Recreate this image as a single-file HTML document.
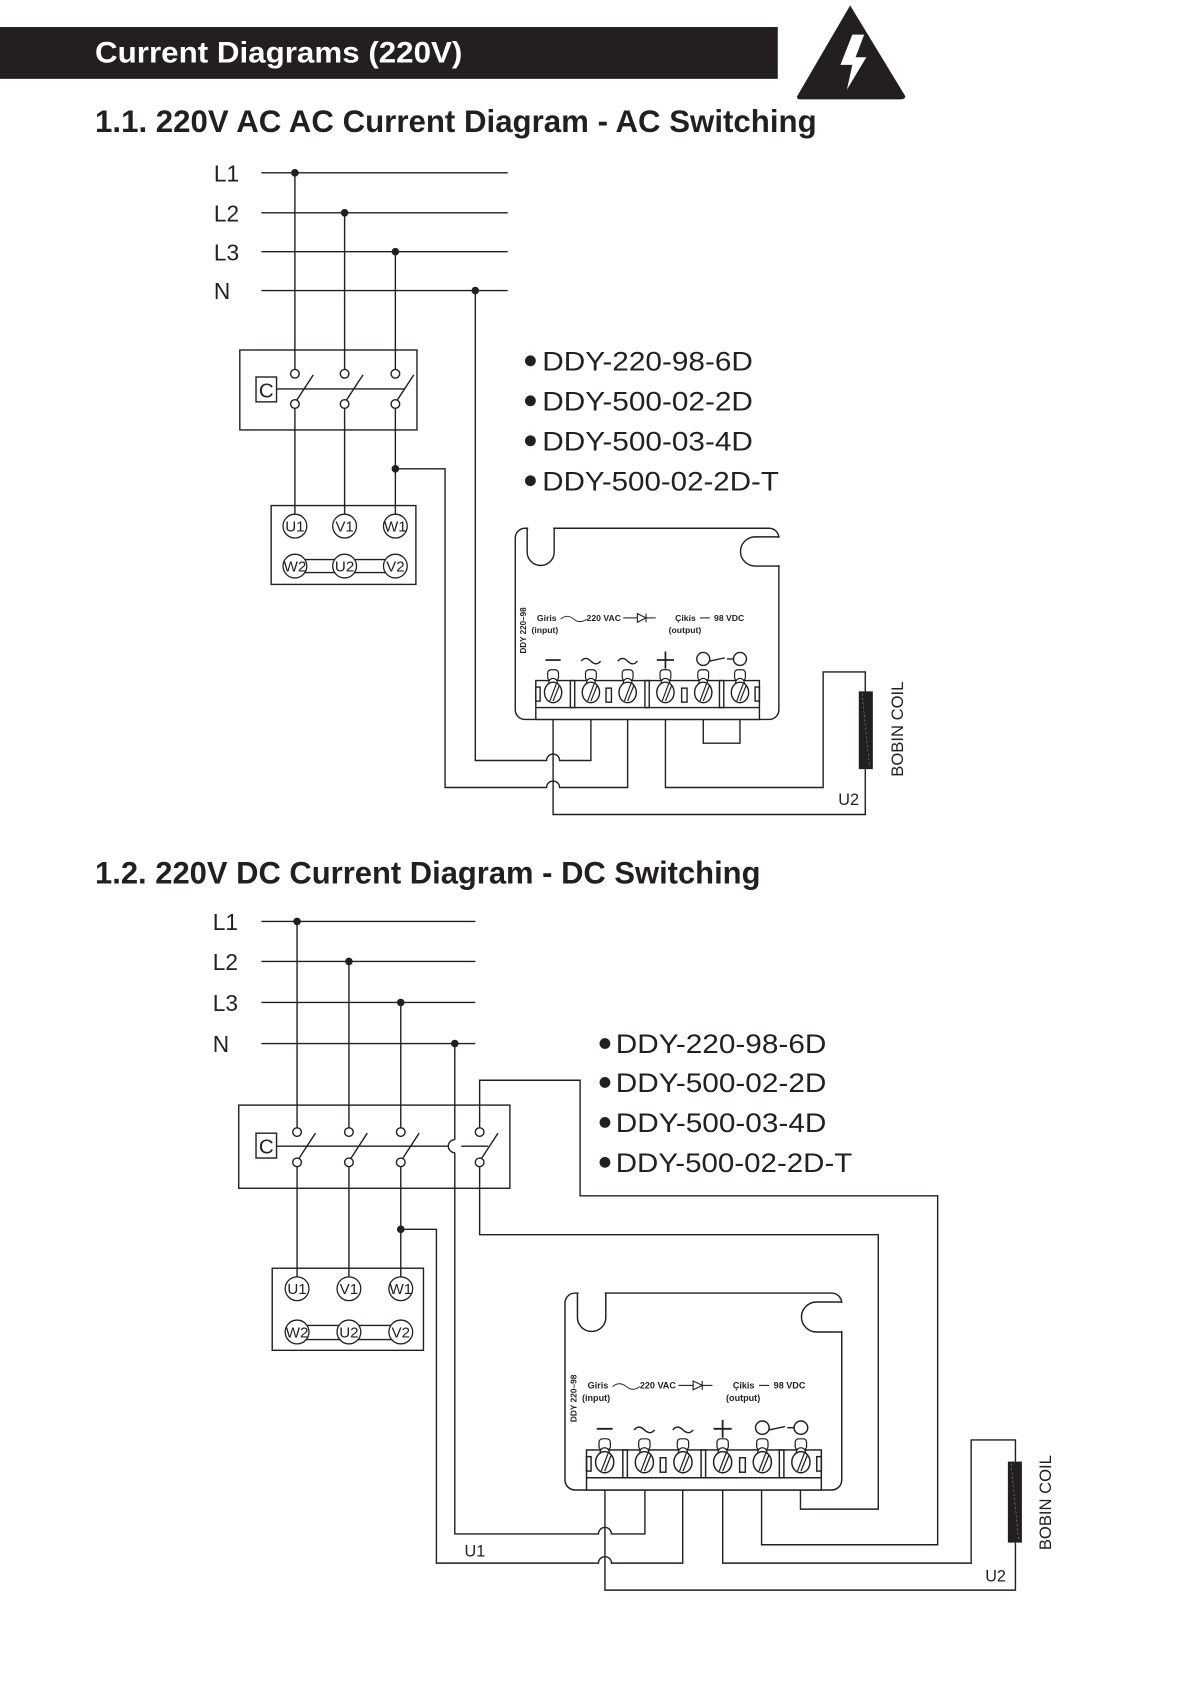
<!DOCTYPE html>
<html><head><meta charset="utf-8"><style>
html,body{margin:0;padding:0;background:#fff;}
svg{display:block;}
text{font-family:"Liberation Sans",sans-serif;fill:#231f20;}
</style></head><body>
<svg width="1198" height="1696" viewBox="0 0 1109 1570" xmlns="http://www.w3.org/2000/svg">
<defs>
<g id="term">
  <rect x="-5" y="131" width="10" height="10" rx="3" fill="#fff" stroke="#231f20" stroke-width="1.1"/>
  <circle cx="0" cy="143" r="4" fill="#fff" stroke="#231f20" stroke-width="1.1"/>
  <ellipse cx="0" cy="152" rx="8" ry="9.5" fill="#fff" stroke="#231f20" stroke-width="1.3"/>
  <line x1="-3" y1="160" x2="3" y2="144" stroke="#231f20" stroke-width="1.1"/>
  <line x1="0" y1="160" x2="6" y2="145" stroke="#231f20" stroke-width="1.1"/>
</g>
<g id="devbody" fill="none" stroke="#231f20" stroke-width="1.3">
  <rect x="0" y="0" width="244" height="177" rx="9"/>
  <rect x="12" y="-2" width="23" height="5" fill="#fff" stroke="none"/>
  <path d="M11,0 V22 A12.5,12.5 0 0 0 36,22 V0"/>
  <rect x="241" y="9" width="6" height="25" fill="#fff" stroke="none"/>
  <path d="M244,8 H222 A13.5,13.5 0 0 0 222,35 H244"/>
  <rect x="19" y="141" width="207" height="36" fill="#fff"/>
  <line x1="19" y1="166" x2="226" y2="166"/>
  <rect x="19" y="147" width="4" height="13"/>
  <rect x="222" y="147" width="4" height="13"/>
  <rect x="51" y="141" width="4" height="25"/>
  <rect x="120" y="141" width="4" height="25"/>
  <rect x="189" y="141" width="4" height="25"/>
  <rect x="84" y="148" width="5" height="13"/>
  <rect x="154" y="148" width="5" height="13"/>
  <use href="#term" x="35"/><use href="#term" x="70"/><use href="#term" x="104"/>
  <use href="#term" x="139"/><use href="#term" x="174"/><use href="#term" x="208"/>
  <line x1="28" y1="122" x2="42" y2="122" stroke-width="1.6"/>
  <path d="M61,123 q4,-5 9,0 t9,0" />
  <path d="M95,123 q4,-5 9,0 t9,0" />
  <line x1="131" y1="122" x2="147" y2="122" stroke-width="1.6"/>
  <line x1="139" y1="114" x2="139" y2="130" stroke-width="1.6"/>
  <circle cx="174" cy="121" r="6"/><circle cx="208" cy="121" r="6"/>
  <line x1="180" y1="123" x2="194" y2="120"/><line x1="196" y1="121" x2="202" y2="121"/>
  <path d="M42,84 q6,-5 12,0 q6,5 12,0" stroke-width="0.8"/>
  <line x1="100" y1="83" x2="113" y2="83" stroke-width="1"/>
  <path d="M113,79 L121,83 L113,87 Z" stroke-width="1"/>
  <line x1="121" y1="79" x2="121" y2="87" stroke-width="1"/>
  <line x1="121" y1="83" x2="130" y2="83" stroke-width="1"/>
  <line x1="171" y1="83" x2="180" y2="83" stroke-width="1"/>
</g>
</defs>

<!-- header -->
<rect x="0" y="25" width="720" height="48" fill="#231f20"/>
<text x="88" y="58" font-size="27" font-weight="bold" fill="#fff" style="fill:#fff" textLength="340" lengthAdjust="spacingAndGlyphs">Current Diagrams (220V)</text>
<path d="M787,5 L838,89 Q838,92 834,92 L741,92 Q737,92 738,89 Z" fill="#231f20"/>
<path d="M789,32 L800,32 L792,53 L802,53 L784,83 L789,60 L778,60 Z" fill="#fff"/>

<text x="88" y="122" font-size="29" font-weight="bold" textLength="668" lengthAdjust="spacingAndGlyphs">1.1. 220V AC  AC Current Diagram - AC Switching</text>
<text x="88" y="818" font-size="29" font-weight="bold" textLength="616" lengthAdjust="spacingAndGlyphs">1.2. 220V DC Current Diagram - DC Switching</text>

<!-- ================= SECTION 1 ================= -->
<g font-size="21" font-weight="normal">
<text x="198" y="168">L1</text><text x="198" y="205">L2</text><text x="198" y="241">L3</text><text x="198" y="277">N</text>
</g>
<g stroke="#231f20" stroke-width="1.3" fill="none">
  <line x1="242" y1="160" x2="470" y2="160"/>
  <line x1="242" y1="197" x2="470" y2="197"/>
  <line x1="242" y1="233" x2="470" y2="233"/>
  <line x1="242" y1="269" x2="470" y2="269"/>
  <line x1="273" y1="160" x2="273" y2="342"/>
  <line x1="319" y1="197" x2="319" y2="342"/>
  <line x1="366" y1="233" x2="366" y2="342"/>
  <rect x="222" y="324" width="164" height="74"/>
  <rect x="237" y="349" width="19" height="23"/>
  <line x1="256" y1="360" x2="374" y2="360"/>
  <circle cx="273" cy="346" r="4"/><circle cx="319" cy="346" r="4"/><circle cx="366" cy="346" r="4"/>
  <circle cx="273" cy="374" r="4"/><circle cx="319" cy="374" r="4"/><circle cx="366" cy="374" r="4"/>
  <line x1="275" y1="370" x2="290" y2="347"/><line x1="321" y1="370" x2="336" y2="347"/><line x1="368" y1="370" x2="383" y2="347"/>
  <line x1="273" y1="378" x2="273" y2="476"/>
  <line x1="319" y1="378" x2="319" y2="476"/>
  <line x1="366" y1="378" x2="366" y2="476"/>
  <rect x="251" y="468" width="134" height="73"/>
  <line x1="273" y1="518" x2="366" y2="518"/><line x1="273" y1="530" x2="366" y2="530"/>
  <path d="M366,434 H412 V729 H506 a6,6 0 0 1 12,0 H581 V650"/>
  <path d="M440,269 V704 H506 a6,6 0 0 1 12,0 H547 V650"/>
  <path d="M512,650 V754 H801 V712"/>
  <path d="M616,650 V729 H762 V622 H801 V640"/>
  <path d="M651,650 V688 H685 V650"/>
</g>
<g fill="#fff" stroke="#231f20" stroke-width="1.2">
  <circle cx="273" cy="487" r="11"/><circle cx="319" cy="487" r="11"/><circle cx="366" cy="487" r="11"/>
  <circle cx="273" cy="524" r="11"/><circle cx="319" cy="524" r="11"/><circle cx="366" cy="524" r="11"/>
</g>
<g font-size="14" text-anchor="middle">
  <text x="273" y="492">U1</text><text x="319" y="492">V1</text><text x="366" y="492">W1</text>
  <text x="273" y="529">W2</text><text x="319" y="529">U2</text><text x="366" y="529">V2</text>
</g>
<text x="246.5" y="368" font-size="19" text-anchor="middle">C</text>
<g fill="#231f20">
  <circle cx="273" cy="160" r="3.5"/><circle cx="319" cy="197" r="3.5"/><circle cx="366" cy="233" r="3.5"/><circle cx="440" cy="269" r="3.5"/><circle cx="366" cy="434" r="3.5"/>
  <circle cx="491" cy="334" r="5"/><circle cx="491" cy="371" r="5"/><circle cx="491" cy="408" r="5"/><circle cx="491" cy="445" r="5"/>
</g>
<g font-size="25">
  <text x="502" y="343" textLength="195" lengthAdjust="spacingAndGlyphs">DDY-220-98-6D</text>
  <text x="502" y="380" textLength="195" lengthAdjust="spacingAndGlyphs">DDY-500-02-2D</text>
  <text x="502" y="417" textLength="195" lengthAdjust="spacingAndGlyphs">DDY-500-03-4D</text>
  <text x="502" y="454" textLength="219" lengthAdjust="spacingAndGlyphs">DDY-500-02-2D-T</text>
</g>
<g transform="translate(477,489)">
  <use href="#devbody"/>
  <g font-size="8" font-weight="bold">
    <text x="20" y="86">Giris</text><text x="15" y="97">(input)</text>
    <text x="66" y="86">220  VAC</text>
    <text x="148" y="86">Çikis</text><text x="142" y="97">(output)</text>
    <text x="184" y="86">98  VDC</text>
    <text transform="translate(10,116) rotate(-90)" font-size="7.5">DDY  220–98</text>
  </g>
</g>
<rect x="795" y="640" width="13" height="72" fill="#231f20"/>
<line x1="798" y1="642" x2="805" y2="710" stroke="#888" stroke-width="0.6" stroke-dasharray="2,2"/>
<text transform="translate(836,719) rotate(-90)" font-size="15" textLength="88" lengthAdjust="spacingAndGlyphs">BOBIN  COIL</text>
<text x="776" y="745" font-size="15">U2</text>

<!-- ================= SECTION 2 ================= -->
<g font-size="21">
<text x="197" y="861">L1</text><text x="197" y="898">L2</text><text x="197" y="936">L3</text><text x="197" y="974">N</text>
</g>
<g stroke="#231f20" stroke-width="1.3" fill="none">
  <line x1="242" y1="853" x2="440" y2="853"/>
  <line x1="242" y1="890" x2="440" y2="890"/>
  <line x1="242" y1="928" x2="440" y2="928"/>
  <line x1="242" y1="966" x2="440" y2="966"/>
  <line x1="275" y1="853" x2="275" y2="1044"/>
  <line x1="323" y1="890" x2="323" y2="1044"/>
  <line x1="371" y1="928" x2="371" y2="1044"/>
  <rect x="221" y="1023" width="251" height="77"/>
  <rect x="237" y="1049" width="19" height="23"/>
  <path d="M256,1061 H415 a6,6 0 0 0 6,6 M421,1055 a6,6 0 0 0 -6,6 M427,1061 H452"/>
  <circle cx="275" cy="1048" r="4"/><circle cx="323" cy="1048" r="4"/><circle cx="371" cy="1048" r="4"/><circle cx="444" cy="1048" r="4"/>
  <circle cx="275" cy="1076" r="4"/><circle cx="323" cy="1076" r="4"/><circle cx="371" cy="1076" r="4"/><circle cx="444" cy="1076" r="4"/>
  <line x1="277" y1="1072" x2="292" y2="1049"/><line x1="325" y1="1072" x2="340" y2="1049"/><line x1="373" y1="1072" x2="388" y2="1049"/><line x1="446" y1="1072" x2="461" y2="1049"/>
  <line x1="275" y1="1080" x2="275" y2="1182"/>
  <line x1="323" y1="1080" x2="323" y2="1182"/>
  <line x1="371" y1="1080" x2="371" y2="1182"/>
  <rect x="252" y="1174" width="140" height="76"/>
  <line x1="275" y1="1227" x2="371" y2="1227"/><line x1="275" y1="1240" x2="371" y2="1240"/>
  <line x1="421" y1="966" x2="421" y2="1055"/>
  <path d="M421,1067 V1420 H554 a6,6 0 0 1 12,0 H597 V1362"/>
  <path d="M371,1138 H404 V1447 H554 a6,6 0 0 1 12,0 H632 V1362"/>
  <path d="M560,1362 V1472 H940 V1428"/>
  <path d="M669,1362 V1447 H899 V1333 H940 V1353"/>
  <path d="M444,1044 V1000 H537 V1107 H868 V1430 H705 V1362"/>
  <path d="M444,1080 V1143 H813 V1397 H741 V1362"/>
</g>
<g fill="#fff" stroke="#231f20" stroke-width="1.2">
  <circle cx="275" cy="1193" r="11"/><circle cx="323" cy="1193" r="11"/><circle cx="371" cy="1193" r="11"/>
  <circle cx="275" cy="1233" r="11"/><circle cx="323" cy="1233" r="11"/><circle cx="371" cy="1233" r="11"/>
</g>
<g font-size="14" text-anchor="middle">
  <text x="275" y="1198">U1</text><text x="323" y="1198">V1</text><text x="371" y="1198">W1</text>
  <text x="275" y="1238">W2</text><text x="323" y="1238">U2</text><text x="371" y="1238">V2</text>
</g>
<text x="246.5" y="1068" font-size="19" text-anchor="middle">C</text>
<g fill="#231f20">
  <circle cx="275" cy="853" r="3.5"/><circle cx="323" cy="890" r="3.5"/><circle cx="371" cy="928" r="3.5"/><circle cx="421" cy="966" r="3.5"/><circle cx="371" cy="1138" r="3.5"/>
  <circle cx="560" cy="966" r="5"/><circle cx="560" cy="1002" r="5"/><circle cx="560" cy="1039" r="5"/><circle cx="560" cy="1076" r="5"/>
</g>
<g font-size="25">
  <text x="570" y="975" textLength="195" lengthAdjust="spacingAndGlyphs">DDY-220-98-6D</text>
  <text x="570" y="1011" textLength="195" lengthAdjust="spacingAndGlyphs">DDY-500-02-2D</text>
  <text x="570" y="1048" textLength="195" lengthAdjust="spacingAndGlyphs">DDY-500-03-4D</text>
  <text x="570" y="1085" textLength="219" lengthAdjust="spacingAndGlyphs">DDY-500-02-2D-T</text>
</g>
<g transform="translate(523,1197) scale(1.05,1.03)">
  <use href="#devbody"/>
  <g font-size="8" font-weight="bold">
    <text x="20" y="86">Giris</text><text x="15" y="97">(input)</text>
    <text x="66" y="86">220  VAC</text>
    <text x="148" y="86">Çikis</text><text x="142" y="97">(output)</text>
    <text x="184" y="86">98  VDC</text>
    <text transform="translate(10,116) rotate(-90)" font-size="7.5">DDY  220–98</text>
  </g>
</g>
<rect x="933" y="1353" width="13" height="75" fill="#231f20"/>
<line x1="936" y1="1355" x2="943" y2="1426" stroke="#888" stroke-width="0.6" stroke-dasharray="2,2"/>
<text transform="translate(973,1435) rotate(-90)" font-size="15" textLength="88" lengthAdjust="spacingAndGlyphs">BOBIN  COIL</text>
<text x="912" y="1464" font-size="15">U2</text>
<text x="430" y="1441" font-size="15">U1</text>
</svg>
</body></html>
